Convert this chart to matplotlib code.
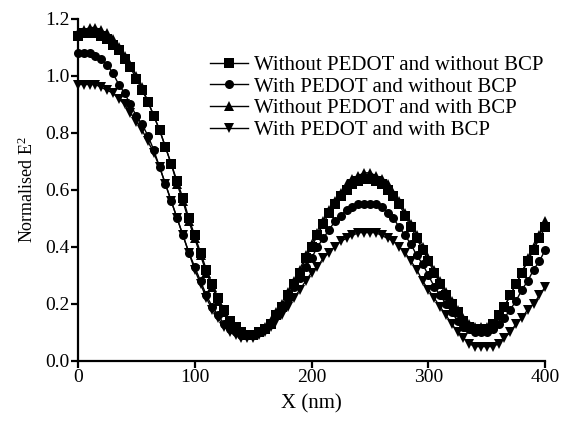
import matplotlib
matplotlib.use("Agg")
import matplotlib.pyplot as plt

plt.rcParams['font.family'] = ['Liberation Serif', 'DejaVu Serif']
plt.rcParams['mathtext.default'] = 'regular'

x_nm = list(range(0, 401, 5))

# Without PEDOT and without BCP (squares)
no_pedot_no_bcp = [1.14, 1.15, 1.15, 1.15, 1.14, 1.13, 1.11, 1.09, 1.06, 1.03,
                   0.99, 0.95, 0.91, 0.86, 0.81, 0.75, 0.69, 0.63, 0.57, 0.50,
                   0.44, 0.38, 0.32, 0.27, 0.22, 0.18, 0.14, 0.12, 0.10, 0.09,
                   0.09, 0.10, 0.11, 0.13, 0.16, 0.19, 0.23, 0.27, 0.31, 0.36,
                   0.40, 0.44, 0.48, 0.52, 0.55, 0.58, 0.60, 0.62, 0.63, 0.64,
                   0.64, 0.63, 0.62, 0.60, 0.58, 0.55, 0.51, 0.47, 0.43, 0.39,
                   0.35, 0.31, 0.27, 0.23, 0.20, 0.17, 0.14, 0.12, 0.11, 0.11,
                   0.11, 0.13, 0.16, 0.19, 0.23, 0.27, 0.31, 0.35, 0.39, 0.43,
                   0.47]

# With PEDOT and without BCP (circles)
pedot_no_bcp = [1.08, 1.08, 1.08, 1.07, 1.06, 1.04, 1.01, 0.97, 0.94, 0.90,
                0.86, 0.83, 0.79, 0.74, 0.68, 0.62, 0.56, 0.50, 0.44, 0.38,
                0.33, 0.28, 0.23, 0.19, 0.16, 0.13, 0.11, 0.10, 0.09, 0.09,
                0.09, 0.10, 0.11, 0.13, 0.16, 0.19, 0.22, 0.26, 0.29, 0.33,
                0.36, 0.40, 0.43, 0.46, 0.49, 0.51, 0.53, 0.54, 0.55, 0.55,
                0.55, 0.55, 0.54, 0.52, 0.50, 0.47, 0.44, 0.41, 0.37, 0.34,
                0.30, 0.26, 0.23, 0.20, 0.17, 0.14, 0.12, 0.11, 0.10, 0.10,
                0.10, 0.11, 0.13, 0.15, 0.18, 0.21, 0.25, 0.28, 0.32, 0.35,
                0.39]

# Without PEDOT and with BCP (up triangles)
no_pedot_bcp = [1.15, 1.16, 1.17, 1.17, 1.16, 1.15, 1.13, 1.10, 1.07, 1.04,
                1.00, 0.96, 0.91, 0.86, 0.81, 0.75, 0.69, 0.62, 0.56, 0.49,
                0.43, 0.37, 0.31, 0.26, 0.21, 0.17, 0.14, 0.11, 0.10, 0.09,
                0.09, 0.10, 0.12, 0.14, 0.17, 0.20, 0.24, 0.28, 0.32, 0.37,
                0.41, 0.45, 0.49, 0.53, 0.56, 0.59, 0.62, 0.64, 0.65, 0.66,
                0.66, 0.65, 0.64, 0.62, 0.59, 0.56, 0.52, 0.48, 0.44, 0.40,
                0.36, 0.32, 0.28, 0.24, 0.21, 0.18, 0.15, 0.13, 0.12, 0.12,
                0.12, 0.13, 0.16, 0.19, 0.23, 0.27, 0.31, 0.36, 0.40, 0.44,
                0.49]

# With PEDOT and with BCP (down triangles)
pedot_bcp = [0.97, 0.97, 0.97, 0.97, 0.96, 0.95, 0.94, 0.92, 0.90, 0.87,
             0.84, 0.81, 0.77, 0.73, 0.68, 0.62, 0.56, 0.50, 0.44, 0.38,
             0.32, 0.27, 0.22, 0.18, 0.15, 0.12, 0.10, 0.09, 0.08, 0.08,
             0.08, 0.09, 0.10, 0.12, 0.14, 0.16, 0.19, 0.22, 0.25, 0.28,
             0.31, 0.33, 0.36, 0.38, 0.40, 0.42, 0.43, 0.44, 0.45, 0.45,
             0.45, 0.45, 0.44, 0.43, 0.42, 0.40, 0.38, 0.35, 0.32, 0.28,
             0.25, 0.22, 0.19, 0.16, 0.13, 0.10, 0.08, 0.06, 0.05, 0.05,
             0.05, 0.05, 0.06, 0.08, 0.10, 0.13, 0.15, 0.18, 0.20, 0.23,
             0.26]

labels = ["Without PEDOT and without BCP", "With PEDOT and without BCP",
          "Without PEDOT and with BCP", "With PEDOT and with BCP"]
markers = ['s', 'o', '^', 'v']

fig = plt.figure(figsize=(5.68, 4.22), dpi=100)
ax = fig.add_axes([0.137, 0.145, 0.823, 0.81])

for y, lab, m in zip([no_pedot_no_bcp, pedot_no_bcp, no_pedot_bcp, pedot_bcp], labels, markers):
    ax.plot(x_nm, y, color='black', lw=1.0, marker=m, ms=6.5,
            markeredgewidth=0, label=lab, clip_on=False)

ax.set_xlim(0, 400)
ax.set_ylim(0, 1.2)
ax.set_xticks([0, 100, 200, 300, 400])
ax.set_yticks([0.0, 0.2, 0.4, 0.6, 0.8, 1.0, 1.2])
ax.set_yticklabels(["0.0", "0.2", "0.4", "0.6", "0.8", "1.0", "1.2"])
for s in ['top', 'right']:
    ax.spines[s].set_visible(False)
for s in ['left', 'bottom']:
    ax.spines[s].set_linewidth(1.6)
ax.tick_params(direction='out', length=5, width=1.6, labelsize=14, pad=1)

ax.set_xlabel("X (nm)", fontsize=15, labelpad=6)
ax.set_ylabel(r"Normalised E$^{2}$", fontsize=13, labelpad=6)

ax.legend(loc='upper right', bbox_to_anchor=(1.014, 0.918), frameon=False,
          fontsize=15, handlelength=1.8, handletextpad=0.3, labelspacing=0.1,
          borderaxespad=0)

fig.savefig("out.png", dpi=100)
